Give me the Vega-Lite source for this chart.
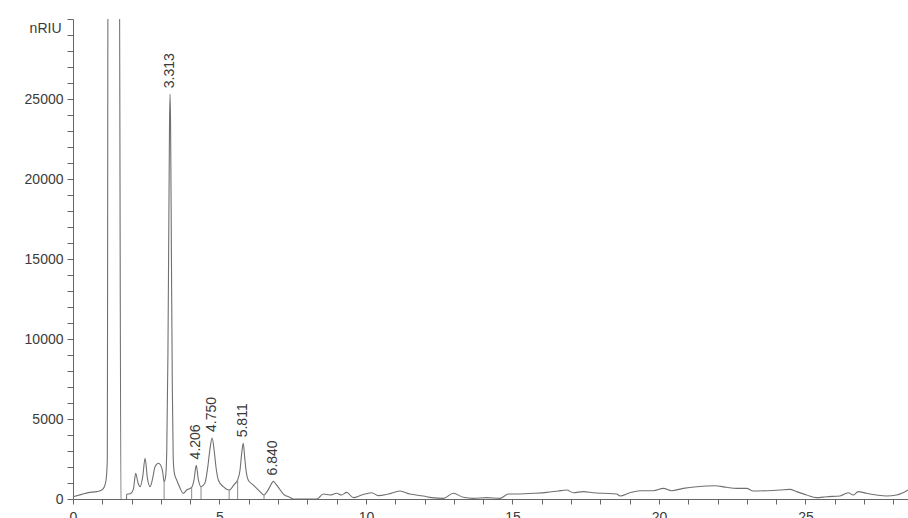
{
  "$schema": "https://vega.github.io/schema/vega-lite/v6.json",
  "width": 835,
  "height": 480,
  "autosize": {"type": "none"},
  "padding": {"left": 73, "top": 19, "right": 0, "bottom": 19},
  "background": "#ffffff",
  "config": {
    "view": {"stroke": null},
    "font": "Liberation Sans",
    "axis": {
      "grid": false,
      "domainColor": "#666666",
      "tickColor": "#666666",
      "labelColor": "#3a3a3a",
      "labelFont": "Liberation Sans",
      "labelFontSize": 14,
      "titleFont": "Liberation Sans",
      "titleFontWeight": "normal"
    }
  },
  "datasets": {
    "trace": [
      {"t": 0.0, "v": 140}, {"t": 0.3, "v": 290}, {"t": 0.52, "v": 400}, {"t": 0.81, "v": 460},
      {"t": 0.98, "v": 560}, {"t": 1.07, "v": 770}, {"t": 1.13, "v": 1200}, {"t": 1.17, "v": 2400},
      {"t": 1.2, "v": 40000}, {"t": 1.57, "v": 40000}, {"t": 1.64, "v": -1000}, {"t": 1.82, "v": -1000},
      {"t": 1.83, "v": 300}, {"t": 1.95, "v": 330}, {"t": 2.06, "v": 600}, {"t": 2.14, "v": 1600},
      {"t": 2.22, "v": 1000}, {"t": 2.29, "v": 770}, {"t": 2.38, "v": 1400}, {"t": 2.46, "v": 2540},
      {"t": 2.54, "v": 1300}, {"t": 2.63, "v": 770}, {"t": 2.72, "v": 1300}, {"t": 2.8, "v": 2020},
      {"t": 2.92, "v": 2230}, {"t": 3.05, "v": 1810}, {"t": 3.11, "v": 1080}, {"t": 3.16, "v": 1400},
      {"t": 3.2, "v": 3000}, {"t": 3.24, "v": 9000}, {"t": 3.27, "v": 17000}, {"t": 3.295, "v": 23500},
      {"t": 3.313, "v": 25300}, {"t": 3.33, "v": 23500}, {"t": 3.36, "v": 15000}, {"t": 3.39, "v": 7000},
      {"t": 3.42, "v": 2600}, {"t": 3.46, "v": 1600}, {"t": 3.54, "v": 1190}, {"t": 3.65, "v": 700},
      {"t": 3.76, "v": 350}, {"t": 3.88, "v": 560}, {"t": 3.99, "v": 660}, {"t": 4.05, "v": 720},
      {"t": 4.13, "v": 1190}, {"t": 4.206, "v": 2100}, {"t": 4.28, "v": 1190}, {"t": 4.37, "v": 770},
      {"t": 4.5, "v": 980}, {"t": 4.6, "v": 2000}, {"t": 4.68, "v": 3200}, {"t": 4.75, "v": 3810},
      {"t": 4.82, "v": 3000}, {"t": 4.88, "v": 2000}, {"t": 4.96, "v": 1190}, {"t": 5.13, "v": 770},
      {"t": 5.33, "v": 560}, {"t": 5.5, "v": 900}, {"t": 5.62, "v": 1190}, {"t": 5.7, "v": 1800},
      {"t": 5.76, "v": 2900}, {"t": 5.811, "v": 3480}, {"t": 5.86, "v": 2600}, {"t": 5.92, "v": 1600},
      {"t": 5.98, "v": 1190}, {"t": 6.15, "v": 880}, {"t": 6.38, "v": 460}, {"t": 6.52, "v": 250},
      {"t": 6.6, "v": 400}, {"t": 6.7, "v": 700}, {"t": 6.78, "v": 980}, {"t": 6.84, "v": 1100},
      {"t": 6.92, "v": 950}, {"t": 7.01, "v": 730}, {"t": 7.18, "v": 310}, {"t": 7.41, "v": 100},
      {"t": 7.52, "v": 0}, {"t": 8.32, "v": 0}, {"t": 8.54, "v": 310}, {"t": 8.77, "v": 250},
      {"t": 9.0, "v": 355}, {"t": 9.17, "v": 250}, {"t": 9.34, "v": 415}, {"t": 9.57, "v": 85},
      {"t": 9.85, "v": 250}, {"t": 10.19, "v": 395}, {"t": 10.42, "v": 210}, {"t": 10.76, "v": 310},
      {"t": 11.16, "v": 500}, {"t": 11.5, "v": 310}, {"t": 11.96, "v": 190}, {"t": 12.24, "v": 85},
      {"t": 12.64, "v": 40}, {"t": 12.98, "v": 355}, {"t": 13.32, "v": 105}, {"t": 13.66, "v": 40},
      {"t": 14.12, "v": 85}, {"t": 14.57, "v": 40}, {"t": 14.86, "v": 310}, {"t": 15.26, "v": 310},
      {"t": 15.71, "v": 355}, {"t": 16.17, "v": 415}, {"t": 16.56, "v": 500}, {"t": 16.85, "v": 560},
      {"t": 17.08, "v": 395}, {"t": 17.42, "v": 460}, {"t": 17.76, "v": 395}, {"t": 18.1, "v": 355},
      {"t": 18.56, "v": 310}, {"t": 18.67, "v": 190}, {"t": 19.01, "v": 395}, {"t": 19.35, "v": 520},
      {"t": 19.81, "v": 520}, {"t": 20.15, "v": 665}, {"t": 20.43, "v": 520}, {"t": 20.83, "v": 665},
      {"t": 21.29, "v": 770}, {"t": 21.91, "v": 830}, {"t": 22.31, "v": 730}, {"t": 22.65, "v": 665},
      {"t": 22.99, "v": 665}, {"t": 23.22, "v": 500}, {"t": 23.68, "v": 520}, {"t": 24.13, "v": 560},
      {"t": 24.47, "v": 600}, {"t": 24.7, "v": 460}, {"t": 25.04, "v": 250}, {"t": 25.38, "v": 85},
      {"t": 25.72, "v": 145}, {"t": 26.18, "v": 190}, {"t": 26.46, "v": 395}, {"t": 26.63, "v": 250},
      {"t": 26.8, "v": 460}, {"t": 27.09, "v": 355}, {"t": 27.43, "v": 250}, {"t": 27.77, "v": 190},
      {"t": 28.11, "v": 250}, {"t": 28.4, "v": 460}, {"t": 28.5, "v": 560}
    ],
    "events": [
      {"t": 3.11, "v": 1080}, {"t": 4.05, "v": 720}, {"t": 4.37, "v": 770},
      {"t": 5.33, "v": 560}, {"t": 5.62, "v": 1190}, {"t": 6.52, "v": 250}
    ],
    "peaks": [
      {"t": 3.313, "v": 25300, "label": "3.313"},
      {"t": 4.206, "v": 2100, "label": "4.206"},
      {"t": 4.75, "v": 3810, "label": "4.750"},
      {"t": 5.811, "v": 3480, "label": "5.811"},
      {"t": 6.84, "v": 1100, "label": "6.840"}
    ]
  },
  "encoding": {
    "x": {
      "field": "t", "type": "quantitative",
      "scale": {"domain": [0, 28.5], "nice": false, "zero": false},
      "axis": {
        "title": null,
        "values": [0,1,2,3,4,5,6,7,8,9,10,11,12,13,14,15,16,17,18,19,20,21,22,23,24,25,26,27,28],
        "labelExpr": "datum.value % 5 === 0 ? datum.label : ''",
        "tickSize": 5,
        "labelPadding": 6,
        "labelFlush": false,
        "labelOverlap": false
      }
    },
    "y": {
      "field": "v", "type": "quantitative",
      "scale": {"domain": [0, 30000], "nice": false},
      "axis": {
        "title": "nRIU",
        "titleAngle": 0,
        "titleAlign": "right",
        "titleBaseline": "middle",
        "titleX": -12,
        "titleY": 9,
        "titleFontSize": 14,
        "titleColor": "#3a3a3a",
        "values": [0,1000,2000,3000,4000,5000,6000,7000,8000,9000,10000,11000,12000,13000,14000,15000,16000,17000,18000,19000,20000,21000,22000,23000,24000,25000,26000,27000,28000,29000,30000],
        "format": "d",
        "labelExpr": "datum.value % 5000 === 0 && datum.value < 30000 ? datum.label : ''",
        "tickSize": 6,
        "labelPadding": 4,
        "labelOverlap": false
      }
    }
  },
  "layer": [
    {
      "data": {"name": "trace"},
      "mark": {"type": "line", "color": "#707070", "strokeWidth": 1.1, "clip": true, "interpolate": "monotone"}
    },
    {
      "data": {"name": "events"},
      "mark": {"type": "rule", "color": "#8a8a8a", "strokeWidth": 1},
      "encoding": {
        "y2": {"datum": 0}
      }
    },
    {
      "data": {"name": "peaks"},
      "mark": {
        "type": "text",
        "angle": 270,
        "align": "left",
        "baseline": "middle",
        "dx": 6,
        "font": "Liberation Sans",
        "fontSize": 14,
        "color": "#3a3a3a"
      },
      "encoding": {
        "text": {"field": "label"}
      }
    }
  ]
}
